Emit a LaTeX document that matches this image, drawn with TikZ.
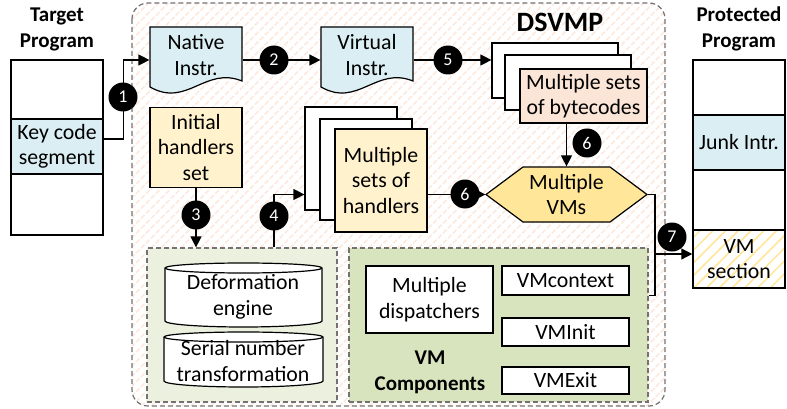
\documentclass[tikz,border=0pt]{standalone}
\usepackage{fontspec}
\setmainfont{Carlito}
\usetikzlibrary{arrows.meta,patterns.meta,calc}
\definecolor{blueF}{HTML}{DAEEF3}
\definecolor{ylwF}{HTML}{FFF2CC}
\definecolor{peachF}{HTML}{FBE5D6}
\definecolor{vmF}{HTML}{FFE699}
\definecolor{grnL}{HTML}{EBF1DE}
\definecolor{grnD}{HTML}{D7E4BD}
\definecolor{hatchO}{HTML}{FDE9DD}
\definecolor{hatchY}{HTML}{FFE699}
\definecolor{dashG}{HTML}{767171}
\begin{document}
\begin{tikzpicture}[x=1pt,y=-1pt,line width=1.2pt,
  >={Triangle[length=11pt,width=11pt]},
  bodyfont/.style={font=\fontsize{21.8}{25.5}\selectfont},
  box/.style={draw=black,line width=1.2pt,inner sep=0pt,bodyfont,align=center},
  txt/.style={inner sep=0pt,bodyfont,align=center},
  ttl/.style={inner sep=0pt,align=center,font=\fontsize{21}{26}\selectfont\bfseries},
  num/.style={circle,fill=black,text=white,minimum size=29pt,inner sep=0pt,font=\fontsize{18}{18}\selectfont},
  grp/.style={draw=dashG,dash pattern=on 5pt off 3pt,line width=1.2pt},
  conn/.style={line width=1.2pt},
  docshape/.pic={\draw[fill=blueF,line width=1.2pt] (-46,-33) -- (46,-33) -- (46,21) .. controls (9,6) and (-9,48) .. (-46,27) -- cycle;}
]
\useasboundingbox[fill=white] (0,0) rectangle (787,409);

% outer DSVMP region
\draw[grp,rounded corners=16pt,pattern={Lines[angle=45,distance=7pt,line width=1.6pt]},pattern color=hatchO] (132,3) rectangle (665,406);
\node[inner sep=0pt,font=\fontsize{28}{30}\selectfont\bfseries] (dsvmp) at (560,22) {DSVMP};

% group boxes
\node[grp,fill=grnL,minimum width=190pt,minimum height=154pt,inner sep=0pt] (eng) at (242,325) {};
\node[grp,fill=grnD,minimum width=299pt,minimum height=154pt,inner sep=0pt] (vmc) at (498.5,325) {};

% target program
\node[ttl] (tTitle) at (57,29) {Target\\Program};
\node[box,minimum width=92pt,minimum height=59pt] (t1) at (57,89.5) {};
\node[box,fill=blueF,minimum width=92pt,minimum height=55pt] (t2) at (57,146.5) {Key code\\segment};
\node[box,minimum width=92pt,minimum height=61pt] (t3) at (57,204.5) {};

% protected program
\node[ttl] (pTitle) at (739,29) {Protected\\Program};
\node[box,minimum width=92pt,minimum height=55pt] (p1) at (739,87.5) {};
\node[box,fill=blueF,minimum width=92pt,minimum height=55pt] (p2) at (739,142.5) {Junk Intr.};
\node[box,minimum width=92pt,minimum height=60pt] (p3) at (739,200) {};
\node[box,minimum width=92pt,minimum height=58pt,pattern={Lines[angle=45,distance=9pt,line width=1.5pt]},pattern color=hatchY] (p4) at (739,259) {};
\node[txt] (p4t) at (p4) {VM\\section};

% document shapes
\node[minimum width=92pt,minimum height=66pt,inner sep=0pt] (native) at (196,60) {};
\pic at (native.center) {docshape};
\node[txt] (nativeT) at (196,55) {Native\\Instr.};
\node[minimum width=92pt,minimum height=66pt,inner sep=0pt] (virtual) at (367,60) {};
\pic at (virtual.center) {docshape};
\node[txt] (virtualT) at (367,55) {Virtual\\Instr.};

% bytecodes stack
\node[box,fill=white,minimum width=126pt,minimum height=55pt] (bback) at (555,70.5) {};
\node[box,fill=white,minimum width=126pt,minimum height=55pt] (bmid) at (568,82.5) {};
\node[box,fill=peachF,minimum width=127pt,minimum height=54pt] (bfront) at (583.5,96) {Multiple sets\\of bytecodes};

% initial handlers
\node[box,fill=ylwF,minimum width=92pt,minimum height=80pt] (init) at (196,147.5) {Initial\\handlers\\set};

% handlers stack
\node[box,fill=white,minimum width=92pt,minimum height=103pt] (hback) at (351,158.5) {};
\node[box,fill=white,minimum width=92pt,minimum height=101pt] (hmid) at (366,169.5) {};
\node[box,fill=ylwF,minimum width=92pt,minimum height=103pt] (hfront) at (381,180.5) {Multiple\\sets of\\handlers};

% multiple VMs hexagon
\coordinate (vmsC) at (566.5,194.5);
\draw[fill=vmF,line width=1.2pt] ($(vmsC)+(-80.5,0)$) -- ($(vmsC)+(-43.5,-27.5)$) -- ($(vmsC)+(43.5,-27.5)$) -- ($(vmsC)+(80.5,0)$) -- ($(vmsC)+(43.5,27.5)$) -- ($(vmsC)+(-43.5,27.5)$) -- cycle;
\node[txt,minimum width=161pt,minimum height=55pt] (vms) at (vmsC) {Multiple\\VMs};

% cylinders
\draw[fill=white,line width=1.2pt] (165,268) -- (165,321) arc[start angle=180,end angle=360,x radius=78.5pt,y radius=6pt] -- (322,268) arc[start angle=0,end angle=180,x radius=78.5pt,y radius=5pt] -- cycle;
\draw[line width=1.2pt] (165,268) arc[start angle=180,end angle=360,x radius=78.5pt,y radius=5pt];
\node[txt] (deform) at (243,297) {Deformation\\engine};
\draw[fill=white,line width=1.2pt] (164,337) -- (164,381) arc[start angle=180,end angle=360,x radius=79.5pt,y radius=6pt] -- (323,337) arc[start angle=0,end angle=180,x radius=79.5pt,y radius=5pt] -- cycle;
\draw[line width=1.2pt] (164,337) arc[start angle=180,end angle=360,x radius=79.5pt,y radius=5pt];
\node[txt] (serial) at (243,361) {Serial number\\transformation};

% VM components
\node[box,fill=white,minimum width=127pt,minimum height=67pt] (disp) at (429.5,299.5) {Multiple\\dispatchers};
\node[box,fill=white,minimum width=127pt,minimum height=29pt] (vmctx) at (565.5,280.5) {VMcontext};
\node[box,fill=white,minimum width=127pt,minimum height=28pt] (vminit) at (565.5,332) {VMInit};
\node[box,fill=white,minimum width=127pt,minimum height=27pt] (vmexit) at (565.5,380.5) {VMExit};
\node[ttl] (vmcl) at (430,372) {VM\\Components};

% connectors
\draw[conn,->] ([yshift=7.5pt]t2.east) -- ++(20,0) |- (native.west);
\node[num] (n1) at (123,97) {1};
\draw[conn,->] (native.east) -- (virtual.west);
\node[num] (n2) at (274,60) {2};
\draw[conn,->] (virtual.east) -- (bback.west |- virtual.east);
\node[num] (n5) at (448,60) {5};
\draw[conn,->] (bfront.south -| vms.north) -- (vms.north);
\node[num] (n6a) at (587,143) {6};
\draw[conn,->] (hfront.east |- vms.west) -- (vms.west);
\node[num] (n6b) at (465,194) {6};
\draw[conn,->] (init.south) -- (init.south |- eng.north);
\node[num] (n3) at (196,215) {3};
\draw[conn,->] ($(eng.north)+(32,0)$) |- (hback.west |- vms.west);
\node[num] (n4) at (274,216) {4};
\coordinate (j) at (655,254);
\draw[conn] (vms.east) -- (vms.east -| j) -- (j |- vmctx.south) -- (vmc.east |- vmctx.south);
\draw[conn,->] (j) -- (j -| p4.west);
\node[num] (n7) at (672,237) {7};
\end{tikzpicture}
\end{document}
